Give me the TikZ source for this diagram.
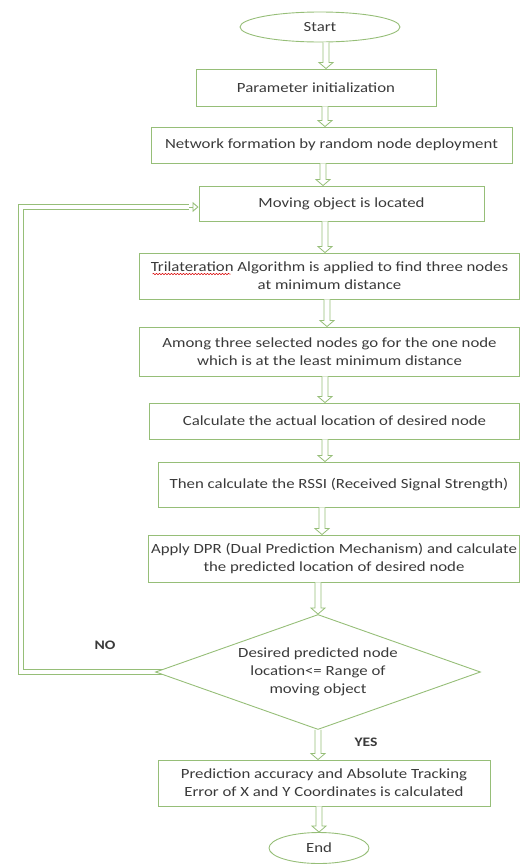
\documentclass[tikz,border=0pt]{standalone}
\usepackage{fontspec}
\setmainfont[FakeStretch=1.2]{Carlito}
\usetikzlibrary{shapes.geometric,calc,arrows.meta,decorations.pathmorphing}
\definecolor{gline}{RGB}{150,190,120}
\definecolor{gtext}{RGB}{58,58,58}
\begin{document}
\begin{tikzpicture}[x=1pt,y=-1pt,
  every node/.style={text=gtext, font=\fontsize{14}{18}\selectfont},
  procbox/.style={draw=gline, line width=0.9pt, rectangle, inner sep=0pt, align=center},
  term/.style={draw=gline, line width=0.9pt, ellipse, inner sep=0pt},
  decision/.style={draw=gline, line width=0.9pt, diamond, aspect=2.8, inner sep=0pt, align=center},
  darr/.style={draw=gline, line width=0.8pt, fill=white, to path={
    let \p1=(\tikztostart), \p2=(\tikztotarget) in
    (\x1-3pt,\y1) -- (\x1-3pt,\y2+6pt) -- (\x1-7pt,\y2+6pt) -- (\x1,\y2)
    -- (\x1+7pt,\y2+6pt) -- (\x1+3pt,\y2+6pt) -- (\x1+3pt,\y1)}},
  backedge/.style={draw=gline, line width=1pt},
  backtip/.style={draw=gline, line width=0.9pt, -{Triangle[open, length=6pt, width=10pt, line width=0.9pt]}},
  lbl/.style={font=\fontsize{13}{15}\selectfont\bfseries, text=gtext},
  spell/.style={draw=red!85!black, line width=0.5pt, decorate, decoration={snake, amplitude=0.7pt, segment length=3pt}}
]
\useasboundingbox (0,0) rectangle (521,865);

\node[term, minimum width=160pt, minimum height=30pt] (start) at (320,27) {Start};
\node[procbox, minimum width=240pt, minimum height=37pt] (param) at (316,87.5) {Parameter initialization};
\node[procbox, minimum width=361pt, minimum height=36pt] (net) at (331.5,145) {Network formation by random node deployment};
\node[procbox, minimum width=285pt, minimum height=35pt] (mov) at (341.5,203.5) {Moving object is located};
\node[procbox, minimum width=380pt, minimum height=46pt] (tri) at (329.5,276) {Trilateration Algorithm is applied to find three nodes\\at minimum distance};
\node[procbox, minimum width=380pt, minimum height=49pt] (among) at (329.5,351.5) {Among three selected nodes go for the one node\\which is at the least minimum distance};
\node[procbox, minimum width=370pt, minimum height=36pt] (calc) at (334.5,421) {Calculate the actual location of desired node};
\node[procbox, minimum width=361pt, minimum height=45pt] (rssi) at (339,484.5) {Then calculate the RSSI (Received Signal Strength)};
\node[procbox, minimum width=371pt, minimum height=47pt] (dpr) at (334,558.5) {Apply DPR (Dual Prediction Mechanism) and calculate\\the predicted location of desired node};
\node[decision, minimum width=325pt, minimum height=115pt] (dec) at (318,672) {Desired predicted node\\location<= Range of\\moving object};
\node[procbox, minimum width=332pt, minimum height=46pt] (pred) at (324,783) {Prediction accuracy and Absolute Tracking\\Error of X and Y Coordinates is calculated};
\node[term, minimum width=100pt, minimum height=31pt] (end) at (319,848) {End};

\node[lbl] (no) at (105,645) {NO};
\node[lbl] (yes) at (366,742) {YES};

\draw[spell] let \p1=(tri.center) in (\x1-177pt,\y1+2pt) -- (\x1-99pt,\y1+2pt);

% feedback connector (NO branch), drawn as a hollow double line
\coordinate (tipbase) at (189,207);
\coordinate (ob) at (18.5,674.5);
\coordinate (ot) at (18.5,204.5);
\coordinate (ib) at (23.5,669.5);
\coordinate (it) at (23.5,209.5);
\draw[backedge] ($(dec.west |- ob)+(7,0)$) -- (ob) -- (ot) -- (tipbase |- ot);
\draw[backedge] ($(dec.west |- ib)+(7,0)$) -- (ib) -- (it) -- (tipbase |- it);
\draw[backtip] (tipbase) -- (mov.west |- tipbase);

\draw[darr] (start.south -| 326,0) to (param.north -| 326,0);
\draw[darr] (param.south -| 325,0) to (net.north -| 325,0);
\draw[darr] (net.south -| 323,0) to (mov.north -| 323,0);
\draw[darr] (mov.south -| 325,0) to (tri.north -| 325,0);
\draw[darr] (tri.south -| 327,0) to (among.north -| 327,0);
\draw[darr] (among.south -| 325,0) to (calc.north -| 325,0);
\draw[darr] (calc.south -| 325,0) to (rssi.north -| 325,0);
\draw[darr] (rssi.south -| 322,0) to (dpr.north -| 322,0);
\draw[darr] (dpr.south -| 318,0) to (dec.north -| 318,0);
\draw[darr] (dec.south -| 318,0) to (pred.north -| 318,0);
\draw[darr] (pred.south -| 319,0) to (end.north -| 319,0);
\end{tikzpicture}
\end{document}
